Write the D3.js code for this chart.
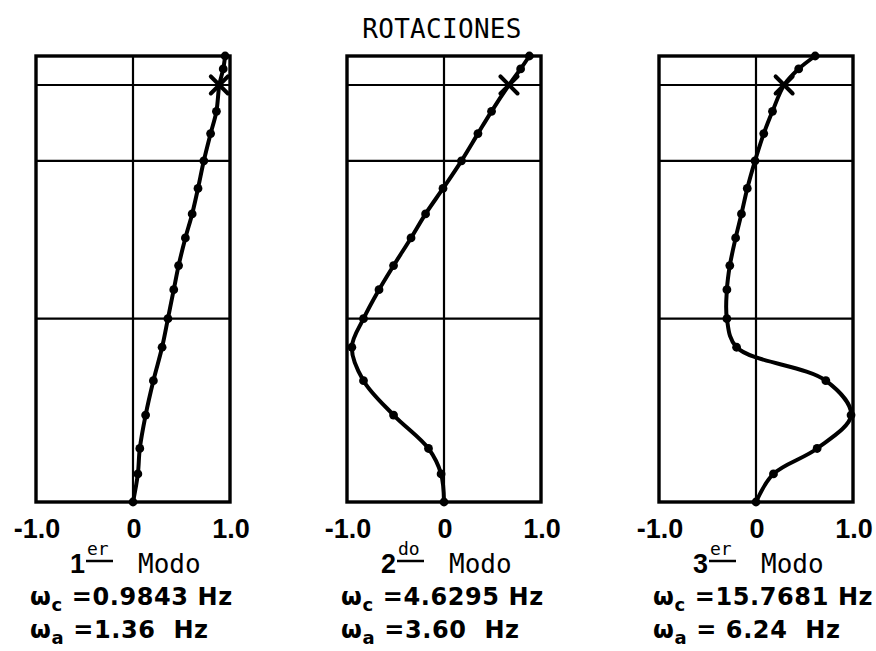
<!DOCTYPE html>
<html>
<head>
<meta charset="utf-8">
<script src="https://cdn.jsdelivr.net/npm/d3@7"></script>
<style>
  html, body { margin: 0; padding: 0; background: #fff; }
  svg { display: block; }
  text { white-space: pre; }
</style>
</head>
<body>
<svg id="chart" width="876" height="651"></svg>
<script>
// Node heights along the structure (percent of total height, top to bottom)
const heights = [100, 97.1, 93.5, 87.6, 82.6, 76.5, 70.3, 64.6, 59.2, 53.0, 47.6, 41.1, 34.7, 27.2, 19.5, 12.0, 6.3, 0];

// Normalised rotations of each mode at those nodes
const mode1 = [0.95, 0.93, 0.89, 0.86, 0.80, 0.73, 0.67, 0.61, 0.54, 0.47, 0.42, 0.36, 0.30, 0.21, 0.13, 0.07, 0.05, 0];
const mode2 = [0.88, 0.79, 0.67, 0.49, 0.35, 0.18, -0.01, -0.19, -0.34, -0.52, -0.67, -0.83, -0.95, -0.83, -0.52, -0.16, -0.03, 0];
const mode3 = [0.61, 0.44, 0.29, 0.17, 0.08, -0.01, -0.09, -0.15, -0.21, -0.27, -0.30, -0.30, -0.20, 0.72, 0.98, 0.63, 0.18, 0];

// Horizontal reference levels and the node marked with a cross
const gridHeights = [41.1, 76.5, 93.5];
const markedNode = 2;

// Axis ticks
const tickValues = [-1, 0, 1];
const tickLabels = ["-1.0", "0", "1.0"];

// Mode captions
const modeNumbers = ["1", "2", "3"];
const modeSuffixes = ["er", "do", "er"];
const computedFreq = ["0.9843", "4.6295", "15.7681"];
const measuredFreq = ["1.36", "3.60", "6.24"];

const title = "ROTACIONES";

const modes = [mode1, mode2, mode3];

const svg = d3.select("#chart");

// Panel placement
const panelLeft = [36, 347, 659];
const panelWidth = 194;
const plotTop = 56, plotBottom = 502;

const y = d3.scaleLinear().domain([0, 100]).range([plotBottom, plotTop]);

const monoFont = "'DejaVu Sans Mono', monospace";
const boldFont = "'DejaVu Sans', sans-serif";
const tickFont = "'Liberation Sans', Arial, sans-serif";

svg.append("text")
  .attr("x", 442).attr("y", 38)
  .attr("text-anchor", "middle")
  .attr("font-family", monoFont)
  .attr("font-size", 26)
  .attr("letter-spacing", 0.3)
  .attr("fill", "#000")
  .text(title);

modes.forEach((values, i) => {
  const x = d3.scaleLinear().domain([-1, 1]).range([panelLeft[i], panelLeft[i] + panelWidth]);
  const g = svg.append("g");
  const cx = x(0);

  // grid levels
  g.selectAll("line.grid").data(gridHeights).enter().append("line")
    .attr("x1", x(-1)).attr("x2", x(1))
    .attr("y1", d => y(d)).attr("y2", d => y(d))
    .attr("stroke", "#000").attr("stroke-width", 2.2);

  // zero line
  g.append("line")
    .attr("x1", cx).attr("x2", cx)
    .attr("y1", y(100)).attr("y2", y(0))
    .attr("stroke", "#000").attr("stroke-width", 2.2);

  // frame
  g.append("rect")
    .attr("x", x(-1)).attr("y", y(100))
    .attr("width", x(1) - x(-1)).attr("height", y(0) - y(100))
    .attr("fill", "none").attr("stroke", "#000").attr("stroke-width", 3.4);

  const pts = heights.map((h, k) => ({ h, v: values[k], k }));

  const line = d3.line()
    .x(d => x(d.v)).y(d => y(d.h))
    .curve(d3.curveCatmullRom.alpha(0.5));

  g.append("path")
    .datum(pts)
    .attr("d", line)
    .attr("fill", "none")
    .attr("stroke", "#000")
    .attr("stroke-width", 4)
    .attr("stroke-linejoin", "round")
    .attr("stroke-linecap", "round");

  g.selectAll("circle.node").data(pts.filter(d => d.k !== markedNode)).enter().append("circle")
    .attr("cx", d => x(d.v)).attr("cy", d => y(d.h))
    .attr("r", 4.4).attr("fill", "#000");

  // cross on the marked node
  const m = pts[markedNode];
  const mx = x(m.v), my = y(m.h), s = 8.5;
  g.append("path")
    .attr("d", `M${mx - s},${my - s}L${mx + s},${my + s}M${mx - s},${my + s}L${mx + s},${my - s}`)
    .attr("stroke", "#000").attr("stroke-width", 4).attr("stroke-linecap", "round");

  // tick labels
  g.selectAll("text.tick").data(tickValues).enter().append("text")
    .attr("x", d => x(d) + 1).attr("y", 538)
    .attr("text-anchor", "middle")
    .attr("font-family", tickFont)
    .attr("font-weight", "bold")
    .attr("font-size", 27)
    .attr("fill", "#000")
    .text((d, k) => tickLabels[k]);

  // mode caption: ordinal + underlined suffix + "Modo"
  g.append("text")
    .attr("x", cx - 48).attr("y", 573)
    .attr("text-anchor", "end")
    .attr("font-family", tickFont).attr("font-weight", "bold")
    .attr("font-size", 27).attr("fill", "#000")
    .text(modeNumbers[i]);
  g.append("text")
    .attr("x", cx - 46).attr("y", 555)
    .attr("font-family", monoFont)
    .attr("font-size", 18).attr("fill", "#000")
    .text(modeSuffixes[i]);
  g.append("line")
    .attr("x1", cx - 47).attr("x2", cx - 20)
    .attr("y1", 561).attr("y2", 561)
    .attr("stroke", "#000").attr("stroke-width", 2.5);
  g.append("text")
    .attr("x", cx + 5).attr("y", 573)
    .attr("font-family", monoFont)
    .attr("font-size", 26).attr("fill", "#000")
    .text("Modo");

  // frequencies
  const freqLine = (yy, sub, body) => {
    const t = g.append("text")
      .attr("x", cx - 103).attr("y", yy)
      .attr("font-family", boldFont).attr("font-weight", "bold")
      .attr("font-size", 24).attr("letter-spacing", 0.6).attr("fill", "#000");
    t.append("tspan").text("\u03c9");
    t.append("tspan").attr("dy", 6).attr("font-size", 18).text(sub);
    t.append("tspan").attr("dy", -6).text(body);
  };
  freqLine(605, "c", " =" + computedFreq[i] + " Hz");
  freqLine(638, "a", " =" + (i === 2 ? " " : "") + measuredFreq[i] + "  Hz");
});
</script>
</body>
</html>
